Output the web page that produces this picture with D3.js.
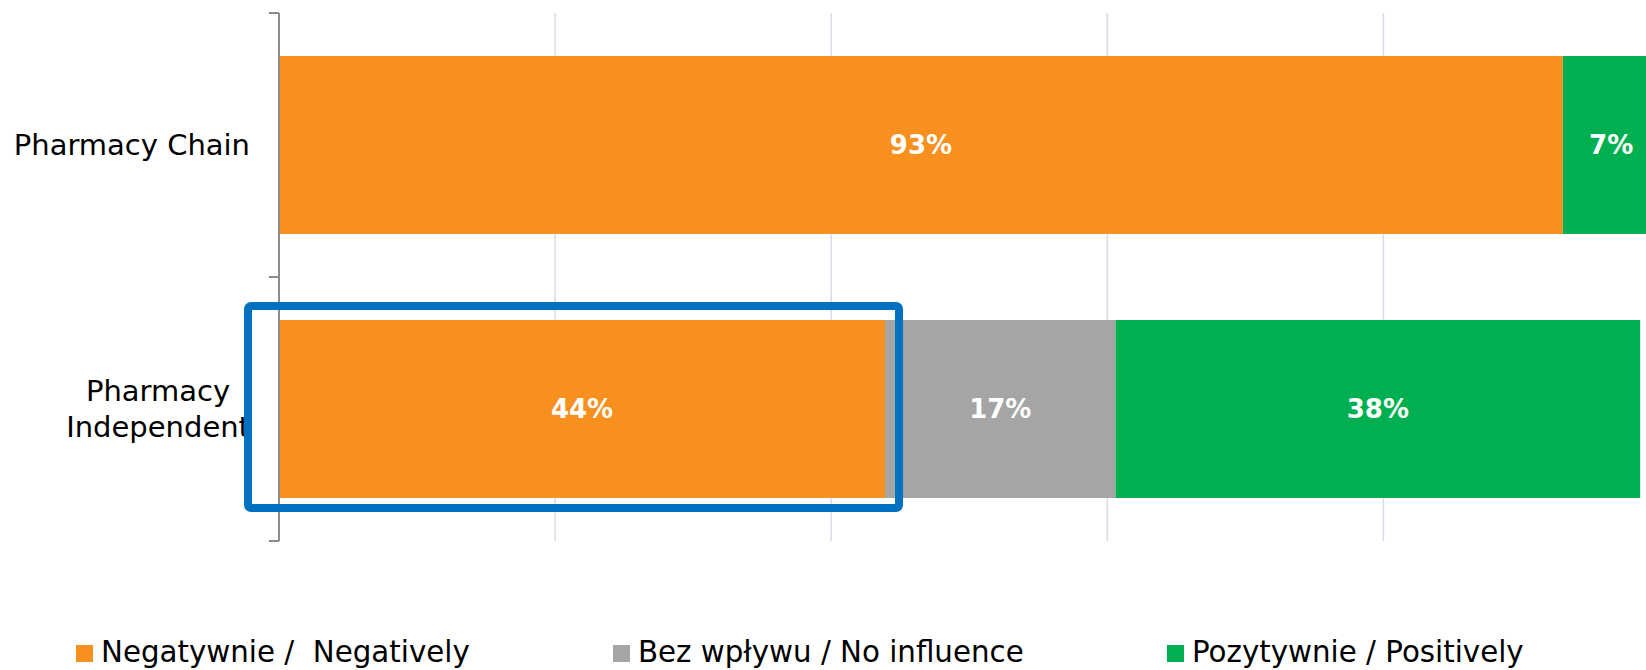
<!DOCTYPE html>
<html>
<head>
<meta charset="utf-8">
<script src="https://cdn.jsdelivr.net/npm/d3@7"></script>
<style>
  html, body { margin: 0; padding: 0; background: #fff; }
  svg { display: block; }
  text { font-family: "DejaVu Sans", Verdana, sans-serif; }
</style>
</head>
<body>
<svg id="chart" width="1646" height="670"></svg>
<script>
// ---- data ----
const categories = ["Pharmacy Chain", "Pharmacy\nIndependent"];
const seriesNames = ["Negatywnie /  Negatively", "Bez wpływu / No influence", "Pozytywnie / Positively"];
const negatively  = [0.93, 0.439];
const noInfluence = [0.00, 0.167];
const positively  = [0.07, 0.380];
const xTicks = [0, 0.2, 0.4, 0.6, 0.8, 1.0];

// ---- styling / layout ----
const colors = ["#F7901E", "#A5A5A5", "#00B050"];
const svg = d3.select("#chart");

const x = d3.scaleLinear().domain([0, 1]).range([279, 1659.5]);
const yOuter = d3.scaleBand().domain(categories).range([13, 541]).padding(0);
const y = d3.scaleBand().domain(categories).range([13, 541]).paddingInner(0.326).paddingOuter(0.163);

const seriesValues = [negatively, noInfluence, positively];
const rows = categories.map((c, i) => {
  let acc = 0;
  return seriesValues.map((vals, s) => {
    const seg = { cat: c, s, v: vals[i], x0: acc, x1: acc + vals[i] };
    acc += vals[i];
    return seg;
  });
}).flat();

// gridlines
svg.append("g").selectAll("line")
  .data(xTicks.filter(t => t > 0 && t < 1))
  .join("line")
  .attr("x1", d => x(d)).attr("x2", d => x(d))
  .attr("y1", 13).attr("y2", 541)
  .attr("stroke", "#DCDAE8").attr("stroke-width", 1.5);

// bars
svg.append("g").selectAll("rect")
  .data(rows.filter(d => d.v > 0))
  .join("rect")
  .attr("x", d => x(d.x0))
  .attr("y", d => y(d.cat))
  .attr("width", d => x(d.x1) - x(d.x0))
  .attr("height", y.bandwidth())
  .attr("fill", d => colors[d.s]);

// data labels
svg.append("g").selectAll("text")
  .data(rows.filter(d => d.v > 0))
  .join("text")
  .attr("x", d => (x(d.x0) + x(d.x1)) / 2)
  .attr("y", d => y(d.cat) + y.bandwidth() / 2)
  .attr("dy", "0.36em")
  .attr("text-anchor", "middle")
  .attr("fill", "#fff")
  .attr("font-weight", "bold")
  .attr("font-size", 26)
  .text(d => Math.round(d.v * 100) + "%");

// vertical category axis
const axisG = svg.append("g");
axisG.append("line")
  .attr("x1", x(0)).attr("x2", x(0))
  .attr("y1", yOuter.range()[0]).attr("y2", yOuter.range()[1])
  .attr("stroke", "#8C8C8C").attr("stroke-width", 2);
const tickYs = categories.map(c => yOuter(c)).concat([yOuter.range()[1]]);
axisG.selectAll("line.tick")
  .data(tickYs)
  .join("line")
  .attr("class", "tick")
  .attr("x1", x(0) - 10).attr("x2", x(0))
  .attr("y1", d => d).attr("y2", d => d)
  .attr("stroke", "#8C8C8C").attr("stroke-width", 2);

// category labels (right-aligned block, lines centered)
const labelRight = 250;
categories.forEach(c => {
  const lines = c.split("\n");
  const cy = yOuter(c) + yOuter.bandwidth() / 2;
  const g = svg.append("g");
  const texts = lines.map((ln, i) => g.append("text")
    .attr("y", cy + 10 + (i - (lines.length - 1) / 2) * 36)
    .attr("font-size", 29)
    .attr("fill", "#000")
    .attr("text-anchor", "middle")
    .text(ln));
  const maxW = d3.max(texts, t => t.node().getComputedTextLength());
  texts.forEach(t => t.attr("x", labelRight - maxW / 2));
});

// highlight box around the independent pharmacies' negative bar
const hc = categories[1];
svg.append("rect")
  .attr("x", x(0) - 31)
  .attr("y", y(hc) - 14)
  .attr("width", x(negatively[1]) + 14 - (x(0) - 31))
  .attr("height", y.bandwidth() + 24)
  .attr("rx", 3)
  .attr("fill", "none")
  .attr("stroke", "#0070C0")
  .attr("stroke-width", 8);

// legend
const legendX = [76, 613, 1167];
const lg = svg.append("g").selectAll("g")
  .data(seriesNames)
  .join("g")
  .attr("transform", (d, i) => `translate(${legendX[i]},0)`);
lg.append("rect")
  .attr("x", 0).attr("y", 645)
  .attr("width", 17).attr("height", 17)
  .attr("fill", (d, i) => colors[i]);
lg.append("text")
  .attr("x", 25).attr("y", 662)
  .attr("font-size", 29.3)
  .attr("fill", "#000")
  .style("white-space", "pre")
  .text(d => d);
</script>
</body>
</html>
